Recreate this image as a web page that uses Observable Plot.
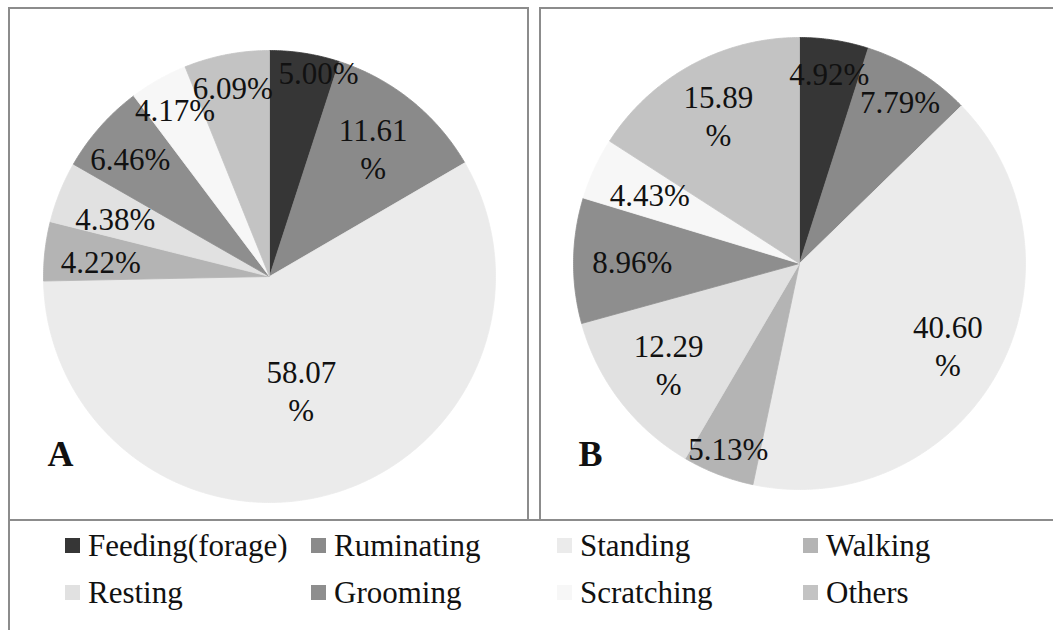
<!DOCTYPE html>
<html>
<head>
<meta charset="utf-8">
<script src="https://cdn.jsdelivr.net/npm/d3@7"></script>
<script src="https://cdn.jsdelivr.net/npm/@observablehq/plot@0.6"></script>
<style>
  html, body { margin: 0; padding: 0; background: #fff; }
  #chart {
    position: relative; width: 1053px; height: 630px; overflow: hidden;
    font-family: "Liberation Serif", serif; color: #111;
  }
  .frame { position: absolute; box-sizing: border-box; border: 2px solid #8c8c8c; }
  .pie { position: absolute; top: 0; }
  .legend {
    position: absolute; left: 65px; top: 530px;
    display: grid; grid-template-columns: repeat(4, 246px);
    grid-auto-rows: 31px; row-gap: 16px;
  }
  .legend-item { display: flex; align-items: center; font-size: 31px; line-height: 1; white-space: nowrap; }
  .legend-key { width: 15px; height: 15px; margin-right: 8px; flex: none; }
</style>
</head>
<body>
<div id="chart"></div>
<script>
// Activity categories, in the order the slices run clockwise from 12 o'clock
const categories = ["Feeding(forage)", "Ruminating", "Standing", "Walking", "Resting", "Grooming", "Scratching", "Others"];
// Share of time (%) per activity
const valuesA = [5.00, 11.61, 58.07, 4.22, 4.38, 6.46, 4.17, 6.09];
const valuesB = [4.92, 7.79, 40.60, 5.13, 12.29, 8.96, 4.43, 15.89];
const panelNames = ["A", "B"];
// Grey fill for each activity
const greys = ["#363636", "#8a8a8a", "#ebebeb", "#b4b4b4", "#e1e1e1", "#8e8e8e", "#f7f7f7", "#c3c3c3"];

// Label placement: distance from centre as a fraction of the radius, plus a small angular nudge (degrees)
const labelRadiusA = [0.93, 0.73, 0.52, 0.75, 0.73, 0.81, 0.85, 0.855];
const labelTurnA   = [4.5, 0, 0, -1, -1, -1, 0, 0];
const labelRadiusB = [0.855, 0.845, 0.75, 0.875, 0.73, 0.74, 0.73, 0.75];
const labelTurnB   = [0, 0, 0, 0, 0, 0, 0, 0];

const FONT = '"Liberation Serif", serif';
const R = 226;        // pie radius in pixels
const PLOT_H = 519;

// Wedge outlines in unit coordinates (y up), angle 0 at 12 o'clock, clockwise
function wedges(values) {
  const arcs = d3.pie().sort(null).value(d => d)(values);
  const rows = [];
  arcs.forEach((a, i) => {
    const span = a.endAngle - a.startAngle;
    const n = Math.max(2, Math.ceil(span / (Math.PI / 360)));
    rows.push({key: categories[i], x: 0, y: 0});
    for (let k = 0; k <= n; k++) {
      const t = a.startAngle + span * k / n;
      rows.push({key: categories[i], x: Math.sin(t), y: Math.cos(t)});
    }
    rows.push({key: categories[i], x: 0, y: 0});
  });
  return rows;
}

function labels(values, radius, turn) {
  const arcs = d3.pie().sort(null).value(d => d)(values);
  return arcs.map((a, i) => {
    const t = (a.startAngle + a.endAngle) / 2 + turn[i] * Math.PI / 180;
    const v = values[i].toFixed(2);
    return {
      x: radius[i] * Math.sin(t),
      y: radius[i] * Math.cos(t),
      text: values[i] >= 10 ? `${v}\n%` : `${v}%`
    };
  });
}

function pie({values, radius, turn, name, width, cx, cy, left, labelDx}) {
  const svg = Plot.plot({
    width, height: PLOT_H, margin: 0,
    x: {domain: [-cx / R, (width - cx) / R], axis: null},
    y: {domain: [-(PLOT_H - cy) / R, cy / R], axis: null},
    color: {domain: categories, range: greys},
    style: {background: "transparent", fontFamily: FONT, color: "#111"},
    marks: [
      Plot.line(wedges(values), {x: "x", y: "y", z: "key", fill: "key", stroke: "key", strokeWidth: 0.8, curve: "linear"}),
      Plot.text(labels(values, radius, turn), {
        x: "x", y: "y", text: "text", fontSize: 31, lineHeight: 1.22, fill: "#111", fontFamily: FONT
      }),
      Plot.text([name], {
        frameAnchor: "bottom-left", textAnchor: "start", lineAnchor: "middle",
        dx: labelDx, dy: -65.5, fontSize: 36, fontWeight: "bold", fill: "#111", fontFamily: FONT
      })
    ]
  });
  svg.classList.add("pie");
  svg.style.left = left + "px";
  return svg;
}

const chart = document.getElementById("chart");

function frame(left, top, width, height) {
  const d = document.createElement("div");
  d.className = "frame";
  Object.assign(d.style, {left: left + "px", top: top + "px", width: width + "px", height: height + "px"});
  chart.appendChild(d);
}

// Panel frames and legend frame
frame(8, 7, 521, 514);
frame(539, 7, 600, 514);
frame(8, 519, 1100, 200);

chart.appendChild(pie({values: valuesA, radius: labelRadiusA, turn: labelTurnA, name: panelNames[0],
  width: 530, cx: 269, cy: 276, left: 0, labelDx: 47}));
chart.appendChild(pie({values: valuesB, radius: labelRadiusB, turn: labelTurnB, name: panelNames[1],
  width: 521, cx: 267, cy: 263, left: 532, labelDx: 46}));

// Legend: four columns, two rows
const legend = document.createElement("div");
legend.className = "legend";
categories.forEach((c, i) => {
  const item = document.createElement("div");
  item.className = "legend-item";
  const key = document.createElement("span");
  key.className = "legend-key";
  key.style.background = greys[i];
  item.appendChild(key);
  item.appendChild(document.createTextNode(c));
  legend.appendChild(item);
});
chart.appendChild(legend);
</script>
</body>
</html>
